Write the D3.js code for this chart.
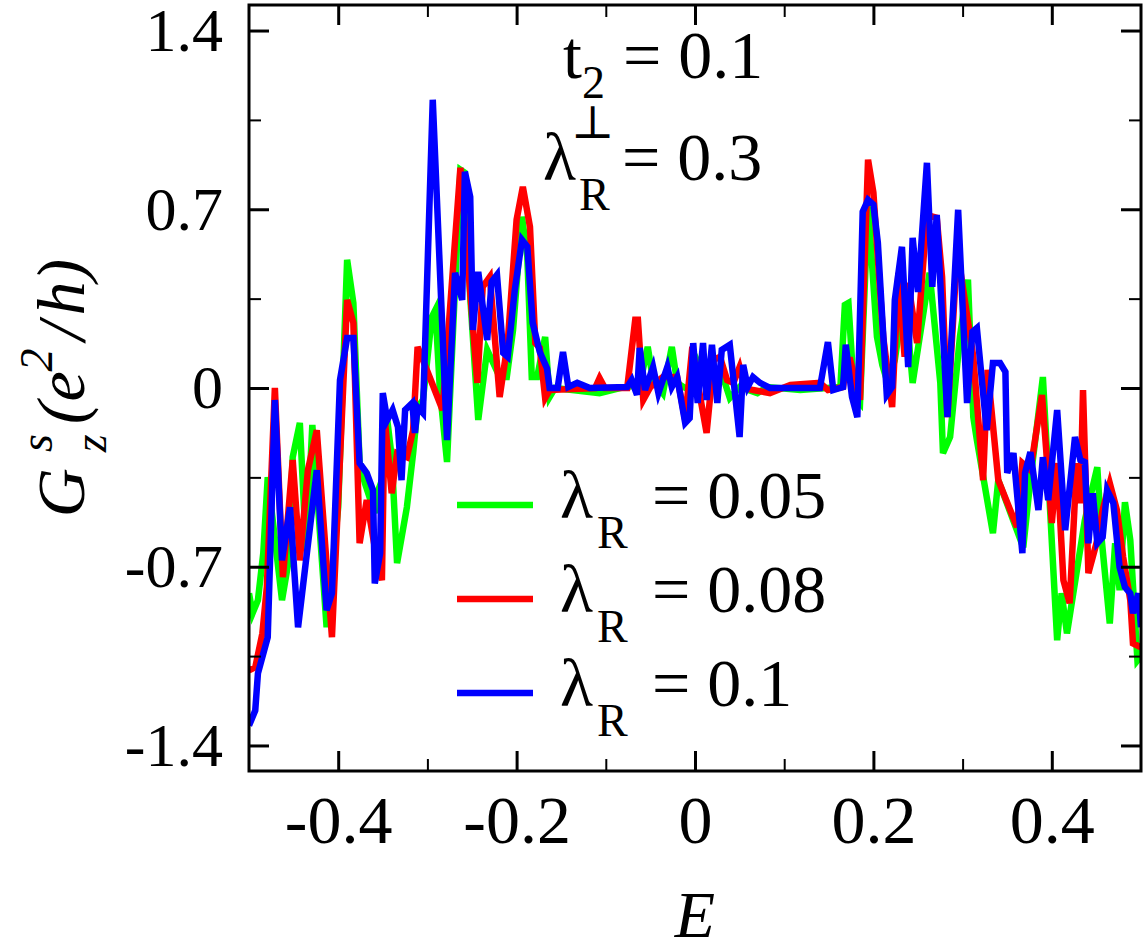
<!DOCTYPE html>
<html>
<head>
<meta charset="utf-8">
<script src="https://cdn.jsdelivr.net/npm/d3@7"></script>
<style>
  html, body { margin: 0; padding: 0; background: #fff; }
  svg { display: block; }
  svg text { font-family: "Liberation Serif", "Times New Roman", Times, "DejaVu Serif", serif; }
</style>
</head>
<body>
<div id="chart"></div>
<script>
// Spin conductance G^s_z against energy E as [E, G] pairs
var green005 = [
  [-0.5, -0.804], [-0.496, -0.882], [-0.490, -0.831], [-0.484, -0.647], [-0.479, -0.349],
  [-0.463, -0.831], [-0.456, -0.686], [-0.451, -0.271], [-0.443, -0.137], [-0.436, -0.635],
  [-0.429, -0.145], [-0.413, -0.937], [-0.400, -0.467], [-0.390, 0.502], [-0.383, 0.333],
  [-0.376, -0.294], [-0.370, -0.373], [-0.359, -0.490], [-0.355, -0.400], [-0.348, -0.333],
  [-0.345, -0.125], [-0.340, -0.271], [-0.334, -0.686], [-0.323, -0.467], [-0.316, -0.255],
  [-0.311, -0.075], [-0.305, -0.047], [-0.295, 0.278], [-0.291, 0.306], [-0.286, -0.008],
  [-0.278, -0.290], [-0.263, 0.855], [-0.258, 0.843], [-0.252, 0.357], [-0.243, -0.125],
  [-0.233, 0.149], [-0.219, 0.043], [-0.211, 0.043], [-0.204, 0.227], [-0.194, 0.671],
  [-0.188, 0.514], [-0.183, 0.043], [-0.177, 0.043], [-0.168, 0.200], [-0.163, -0.035],
  [-0.157, 0.0], [-0.107, -0.020], [-0.084, 0.0], [-0.062, 0.012], [-0.053, 0.161],
  [-0.047, 0.031], [-0.036, -0.020], [-0.026, 0.161], [-0.020, 0.020], [-0.013, 0.004],
  [-0.006, -0.008], [0.002, 0.110], [0.009, 0.059], [0.030, 0.059], [0.039, -0.039],
  [0.050, 0.004], [0.070, -0.020], [0.081, 0.004], [0.118, -0.008], [0.163, 0.004],
  [0.168, 0.325], [0.172, 0.333], [0.176, 0.110], [0.179, -0.035], [0.185, -0.059],
  [0.194, 0.718], [0.204, 0.200], [0.210, 0.090], [0.216, 0.020], [0.224, 0.110],
  [0.235, 0.373], [0.244, 0.020], [0.263, 0.451], [0.275, 0.020], [0.278, -0.255],
  [0.286, -0.192], [0.297, 0.200], [0.306, 0.424], [0.312, -0.114], [0.316, -0.204],
  [0.334, -0.569], [0.340, -0.361], [0.368, -0.624], [0.376, -0.361], [0.390, 0.043],
  [0.406, -0.988], [0.411, -0.804], [0.417, -0.961], [0.437, -0.518], [0.451, -0.310],
  [0.456, -0.596], [0.465, -0.922], [0.471, -0.608], [0.476, -0.792], [0.482, -0.447],
  [0.488, -0.596], [0.496, -1.067], [0.5, -1.05]
];
var red008 = [
  [-0.5, -1.106], [-0.493, -1.094], [-0.485, -0.961], [-0.480, -0.780], [-0.471, 0.0],
  [-0.462, -0.741], [-0.451, -0.282], [-0.443, -0.675], [-0.434, -0.322], [-0.424, -0.165],
  [-0.407, -0.976], [-0.390, 0.345], [-0.383, 0.255], [-0.376, -0.608], [-0.368, -0.439],
  [-0.359, -0.624], [-0.351, -0.753], [-0.348, -0.114], [-0.340, -0.412], [-0.334, -0.255],
  [-0.323, -0.271], [-0.316, -0.165], [-0.311, 0.161], [-0.305, 0.110], [-0.283, -0.086],
  [-0.263, 0.863], [-0.244, 0.020], [-0.238, 0.396], [-0.230, 0.435], [-0.219, -0.035],
  [-0.210, 0.176], [-0.200, 0.659], [-0.193, 0.788], [-0.185, 0.631], [-0.179, 0.176],
  [-0.174, 0.157], [-0.168, -0.039], [-0.163, -0.008], [-0.112, 0.0], [-0.107, 0.039],
  [-0.101, 0.0], [-0.076, 0.0], [-0.067, 0.267], [-0.064, 0.267], [-0.058, -0.047],
  [-0.050, 0.004], [-0.036, 0.043], [-0.020, 0.043], [-0.011, -0.125], [-0.003, 0.161],
  [0.003, 0.020], [0.013, -0.176], [0.021, 0.110], [0.028, 0.122], [0.036, 0.031],
  [0.043, 0.020], [0.050, 0.082], [0.056, 0.0], [0.065, -0.008], [0.084, -0.020],
  [0.107, 0.012], [0.140, 0.020], [0.149, -0.008], [0.166, 0.004], [0.170, 0.110],
  [0.174, 0.110], [0.185, -0.047], [0.194, 0.894], [0.200, 0.765], [0.211, 0.200],
  [0.221, -0.075], [0.228, 0.451], [0.235, 0.122], [0.239, 0.412], [0.249, 0.176],
  [0.260, 0.678], [0.271, 0.667], [0.277, 0.435], [0.283, -0.114], [0.294, 0.541],
  [0.312, 0.122], [0.323, -0.361], [0.328, 0.071], [0.340, -0.361], [0.361, -0.545],
  [0.367, -0.294], [0.376, -0.322], [0.389, -0.027], [0.400, -0.529], [0.406, -0.294],
  [0.413, -0.753], [0.420, -0.843], [0.428, -0.294], [0.432, -0.451], [0.435, -0.008],
  [0.441, -0.725], [0.451, -0.596], [0.457, -0.478], [0.465, -0.373], [0.473, -0.478],
  [0.480, -0.663], [0.488, -0.831], [0.491, -1.0], [0.5, -1.016]
];
var blue010 = [
  [-0.5, -1.322], [-0.493, -1.263], [-0.490, -1.118], [-0.479, -0.976], [-0.471, -0.047],
  [-0.463, -0.675], [-0.454, -0.467], [-0.445, -0.937], [-0.424, -0.322], [-0.413, -0.871],
  [-0.407, -0.804], [-0.398, 0.031], [-0.390, 0.196], [-0.383, 0.196], [-0.376, -0.294],
  [-0.368, -0.333], [-0.361, -0.400], [-0.359, -0.765], [-0.353, -0.647], [-0.350, -0.020],
  [-0.345, -0.125], [-0.339, -0.086], [-0.333, -0.153], [-0.329, -0.361], [-0.325, -0.086],
  [-0.317, -0.059], [-0.314, -0.176], [-0.311, -0.075], [-0.305, -0.098], [-0.294, 1.129],
  [-0.278, -0.204], [-0.269, 0.451], [-0.261, 0.345], [-0.258, 0.847], [-0.252, 0.749],
  [-0.249, 0.227], [-0.243, 0.455], [-0.233, 0.188], [-0.228, 0.416], [-0.222, 0.443],
  [-0.215, 0.137], [-0.210, 0.122], [-0.202, 0.384], [-0.194, 0.580], [-0.188, 0.553],
  [-0.182, 0.255], [-0.174, 0.141], [-0.166, 0.078], [-0.163, 0.0], [-0.154, 0.0],
  [-0.148, 0.141], [-0.142, 0.004], [-0.132, 0.020], [-0.126, 0.012], [-0.118, 0.0],
  [-0.076, 0.004], [-0.071, 0.031], [-0.065, -0.027], [-0.062, 0.157], [-0.056, -0.008],
  [-0.047, 0.082], [-0.041, -0.020], [-0.031, 0.082], [-0.026, 0.004], [-0.020, 0.043],
  [-0.011, -0.137], [-0.006, -0.118], [-0.002, 0.176], [0.003, -0.059], [0.009, 0.176],
  [0.013, -0.047], [0.019, 0.169], [0.025, -0.059], [0.030, 0.149], [0.039, 0.169],
  [0.050, -0.192], [0.054, 0.090], [0.059, 0.004], [0.065, 0.043], [0.073, 0.020],
  [0.084, 0.0], [0.140, 0.0], [0.149, 0.180], [0.155, -0.008], [0.166, 0.004],
  [0.169, 0.170], [0.176, -0.035], [0.182, -0.114], [0.188, 0.690], [0.194, 0.737],
  [0.200, 0.718], [0.205, 0.569], [0.215, -0.027], [0.221, 0.004], [0.224, 0.345],
  [0.232, 0.553], [0.239, 0.082], [0.244, 0.588], [0.250, 0.376], [0.260, 0.882],
  [0.266, 0.396], [0.271, 0.678], [0.275, 0.412], [0.283, -0.114], [0.295, 0.698],
  [0.305, -0.059], [0.311, 0.220], [0.316, 0.235], [0.327, -0.165], [0.334, 0.098],
  [0.342, 0.098], [0.348, 0.063], [0.350, -0.333], [0.357, -0.255], [0.367, -0.647],
  [0.370, -0.333], [0.376, -0.251], [0.385, -0.478], [0.390, -0.271], [0.396, -0.439],
  [0.406, -0.086], [0.415, -0.557], [0.426, -0.192], [0.432, -0.282], [0.437, -0.290],
  [0.441, -0.608], [0.446, -0.412], [0.451, -0.608], [0.457, -0.584], [0.462, -0.400],
  [0.469, -0.451], [0.476, -0.702], [0.482, -0.780], [0.488, -0.804], [0.491, -0.882],
  [0.497, -0.804], [0.5, -0.937]
];

// Legend entries (lambda_R values) and colours, drawn bottom to top
var seriesNames = ["0.05", "0.08", "0.1"];
var seriesColors = ["#00ff00", "#ff0000", "#0000ff"];
var seriesData = [green005, red008, blue010];

// Ticks
var xMajorTicks = [-0.4, -0.2, 0, 0.2, 0.4];
var xMinorTicks = [-0.3, -0.1, 0.1, 0.3];
var yMajorTicks = [-1.4, -0.7, 0, 0.7, 1.4];
var yMinorTicks = [-1.05, -0.35, 0.35, 1.05];

var width = 1148, height = 950;
var margin = { top: 5, right: 7, bottom: 179, left: 249 };

var svg = d3.select("#chart").append("svg")
    .attr("width", width)
    .attr("height", height);

var x = d3.scaleLinear().domain([-0.5, 0.5]).range([margin.left, width - margin.right]);
var y = d3.scaleLinear().domain([-1.5, 1.5]).range([height - margin.bottom, margin.top]);

// hyphen rather than unicode minus, like the figure
var tickFmt = function(d) { return d === 0 ? "0" : String(d); };

// Clip the curves to the frame
svg.append("clipPath").attr("id", "plotClip")
  .append("rect")
    .attr("x", x(-0.5)).attr("y", y(1.5))
    .attr("width", x(0.5) - x(-0.5)).attr("height", y(-1.5) - y(1.5));

// Curves
var line = d3.line()
    .x(function(d) { return x(d[0]); })
    .y(function(d) { return y(d[1]); });

var curves = svg.append("g").attr("clip-path", "url(#plotClip)");
seriesData.forEach(function(s, i) {
    curves.append("path")
        .attr("d", line(s))
        .attr("fill", "none")
        .attr("stroke", seriesColors[i])
        .attr("stroke-width", 6.5)
        .attr("stroke-linejoin", "miter");
});

// Axes, all ticks pointing inwards
var styleAxis = function(g, fontSize) {
    g.attr("font-family", null);
    g.select(".domain").remove();
    g.selectAll(".tick line").attr("stroke", "#000");
    g.selectAll("text")
        .attr("fill", "#000")
        .style("font-size", fontSize + "px");
};

var addAxis = function(axis, transform, fontSize, lineWidth) {
    var g = svg.append("g").attr("transform", transform).call(axis);
    styleAxis(g, fontSize);
    g.selectAll(".tick line").attr("stroke-width", lineWidth);
    return g;
};

var bottomT = "translate(0," + y(-1.5) + ")";
var topT = "translate(0," + y(1.5) + ")";
var leftT = "translate(" + x(-0.5) + ",0)";
var rightT = "translate(" + x(0.5) + ",0)";

addAxis(d3.axisBottom(x).tickValues(xMajorTicks).tickSize(-20).tickPadding(24).tickFormat(tickFmt), bottomT, 68, 3);
addAxis(d3.axisBottom(x).tickValues(xMinorTicks).tickSize(-12).tickFormat(""), bottomT, 10, 2);
addAxis(d3.axisTop(x).tickValues(xMajorTicks).tickSize(-20).tickFormat(""), topT, 10, 3);
addAxis(d3.axisTop(x).tickValues(xMinorTicks).tickSize(-12).tickFormat(""), topT, 10, 2);
addAxis(d3.axisLeft(y).tickValues(yMajorTicks).tickSize(-20).tickPadding(26).tickFormat(tickFmt), leftT, 62, 3);
addAxis(d3.axisLeft(y).tickValues(yMinorTicks).tickSize(-12).tickFormat(""), leftT, 10, 2);
addAxis(d3.axisRight(y).tickValues(yMajorTicks).tickSize(-20).tickFormat(""), rightT, 10, 3);
addAxis(d3.axisRight(y).tickValues(yMinorTicks).tickSize(-12).tickFormat(""), rightT, 10, 2);

// Frame
svg.append("rect")
    .attr("x", x(-0.5)).attr("y", y(1.5))
    .attr("width", x(0.5) - x(-0.5)).attr("height", y(-1.5) - y(1.5))
    .attr("fill", "none")
    .attr("stroke", "#000")
    .attr("stroke-width", 3);

// Axis titles
svg.append("text")
    .attr("x", x(0))
    .attr("y", 937)
    .attr("text-anchor", "middle")
    .style("font-size", "66px")
    .style("font-style", "italic")
    .text("E");

var yTitle = svg.append("text")
    .attr("transform", "translate(84," + y(0) + ") rotate(-90)")
    .attr("text-anchor", "middle")
    .style("font-size", "68px")
    .style("font-style", "italic");
yTitle.append("tspan").text("G");
yTitle.append("tspan").attr("dx", 16).attr("dy", -32).style("font-size", "46px").text("s");
yTitle.append("tspan").attr("dx", -18).attr("dy", 54).style("font-size", "46px").text("z");
yTitle.append("tspan").attr("dx", 10).attr("dy", -22).text("(e");
yTitle.append("tspan").attr("dy", -32).style("font-size", "46px").text("2");
yTitle.append("tspan").attr("dx", 8).attr("dy", 32).text("/");
yTitle.append("tspan").attr("dx", 6).text("h)");

// Parameter annotation
var fs = 68, subFs = 46;
var t2 = svg.append("text")
    .attr("x", 563).attr("y", 78)
    .style("font-size", fs + "px");
t2.append("tspan").text("t");
t2.append("tspan").attr("dy", 20).style("font-size", subFs + "px").text("2");
t2.append("tspan").attr("dx", 18).attr("dy", -20).text("= 0.1");

var lam = svg.append("g");
lam.append("text").attr("x", 543).attr("y", 180).style("font-size", fs + "px").text("\u03bb");
lam.append("text").attr("x", 571).attr("y", 138).style("font-size", subFs + "px").text("\u22a5");
lam.append("text").attr("x", 579).attr("y", 210).style("font-size", subFs + "px").text("R");
lam.append("text").attr("x", 622).attr("y", 180).style("font-size", fs + "px").text("= 0.3");

// Legend
var legendY = [505, 599, 693];
var legend = svg.append("g");
seriesNames.forEach(function(name, i) {
    var row = legend.append("g").attr("transform", "translate(0," + legendY[i] + ")");
    row.append("line")
        .attr("x1", 457).attr("x2", 533)
        .attr("y1", 0).attr("y2", 0)
        .attr("stroke", seriesColors[i])
        .attr("stroke-width", 6.5);
    row.append("text").attr("x", 560).attr("y", 13).style("font-size", fs + "px").text("\u03bb");
    row.append("text").attr("x", 597).attr("y", 43).style("font-size", subFs + "px").text("R");
    row.append("text").attr("x", 652).attr("y", 13).style("font-size", fs + "px").text("= " + name);
});
</script>
</body>
</html>
